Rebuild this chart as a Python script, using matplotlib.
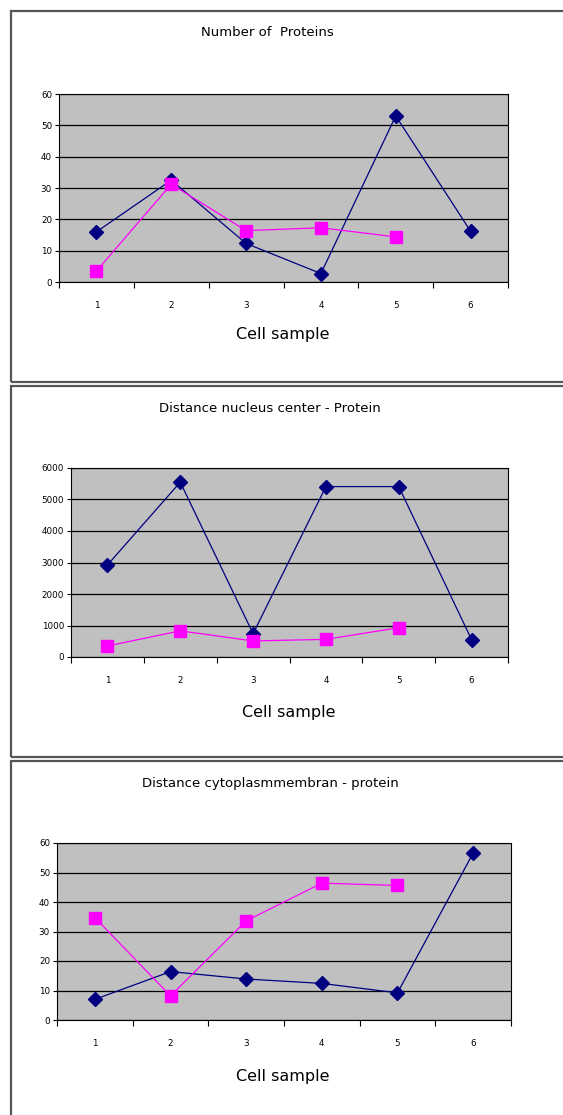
import numpy as np
import matplotlib
matplotlib.use("Agg")
import matplotlib.pyplot as plt
from matplotlib.patches import Rectangle

W, H = 563, 1115

samples = ["1", "2", "3", "4", "5", "6"]

titles = [
    "Number of  Proteins",
    "Distance nucleus center - Protein",
    "Distance cytoplasmmembran - protein",
]

# series (navy diamonds / magenta squares)
n_prot_blue = [16, 32.5, 12.3, 2.7, 53, 16.2]
n_prot_pink = [3.5, 31.2, 16.4, 17.3, 14.4]

nuc_blue = [2920, 5550, 740, 5410, 5410, 550]
nuc_pink = [350, 830, 510, 560, 930]

mem_blue = [7.0, 16.4, 13.9, 12.4, 9.2, 56.6]
mem_pink = [34.7, 8.2, 33.6, 46.4, 45.6]

y_ticks = [
    [0, 10, 20, 30, 40, 50, 60],
    [0, 1000, 2000, 3000, 4000, 5000, 6000],
    [0, 10, 20, 30, 40, 50, 60],
]

blue_data = [n_prot_blue, nuc_blue, mem_blue]
pink_data = [n_prot_pink, nuc_pink, mem_pink]

# layout in pixels: axes (x0, x1, y0, y1), panel box top/bottom, title y, xlabel y
layout = [
    dict(ax=(59, 508, 94, 282), box=(11, 381.5), title=33, xlab=335),
    dict(ax=(71, 508, 468, 657), box=(386, 756.5), title=408, xlab=712),
    dict(ax=(57, 511, 843, 1020), box=(761, 1125), title=783, xlab=1077),
]
title_x = [267, 270, 270]

fig = plt.figure(figsize=(W / 100, H / 100), dpi=100)
fig.patch.set_facecolor("white")


def px_rect(x0, x1, y0, y1):
    return [x0 / W, 1 - y1 / H, (x1 - x0) / W, (y1 - y0) / H]


for i in range(3):
    lay = layout[i]
    # panel frame
    top, bot = lay["box"]
    fig.patches.append(Rectangle((11 / W, 1 - bot / H), (W + 20 - 11) / W, (bot - top) / H,
                                 transform=fig.transFigure, fill=False,
                                 edgecolor="#555555", linewidth=1.6))

    ax = fig.add_axes(px_rect(*lay["ax"]))
    ax.set_facecolor("#c0c0c0")
    x = np.arange(len(samples))
    ax.plot(x, blue_data[i], color="#000080", linewidth=0.9, marker="D",
            markersize=7.5, markerfacecolor="#000080", markeredgecolor="#000080", zorder=3)
    xp = np.arange(len(pink_data[i]))
    ax.plot(xp, pink_data[i], color="#ff00ff", linewidth=0.9, marker="s",
            markersize=8, markerfacecolor="#ff00ff", markeredgecolor="#ff00ff", zorder=4)

    ax.set_xlim(-0.5, len(samples) - 0.5)
    ax.set_ylim(y_ticks[i][0], y_ticks[i][-1])
    ax.set_yticks(y_ticks[i])
    ax.set_yticklabels([str(v) for v in y_ticks[i]], fontsize=6.3)
    ax.yaxis.grid(True, color="black", linewidth=0.9)
    ax.set_axisbelow(True)

    ax.set_xticks(np.arange(-0.5, len(samples), 1.0))
    ax.set_xticklabels([])
    ax.set_xticks(x, minor=True)
    ax.set_xticklabels(samples, minor=True, fontsize=6.3)
    ax.tick_params(axis="x", which="major", length=4, width=0.8, direction="out")
    ax.tick_params(axis="x", which="minor", length=0, pad=14)
    ax.tick_params(axis="y", length=3, width=0.8, pad=2)

    for s in ax.spines.values():
        s.set_color("black")
        s.set_linewidth(0.8)

    x0, x1, y0, y1 = lay["ax"]
    fig.text(title_x[i] / W, 1 - lay["title"] / H, titles[i],
             ha="center", va="center", fontsize=9.5, color="black")
    fig.text(((x0 + x1) / 2 - 1) / W, 1 - lay["xlab"] / H, "Cell sample",
             ha="center", va="center", fontsize=11.5, color="black")

fig.savefig("out.png", dpi=100)
